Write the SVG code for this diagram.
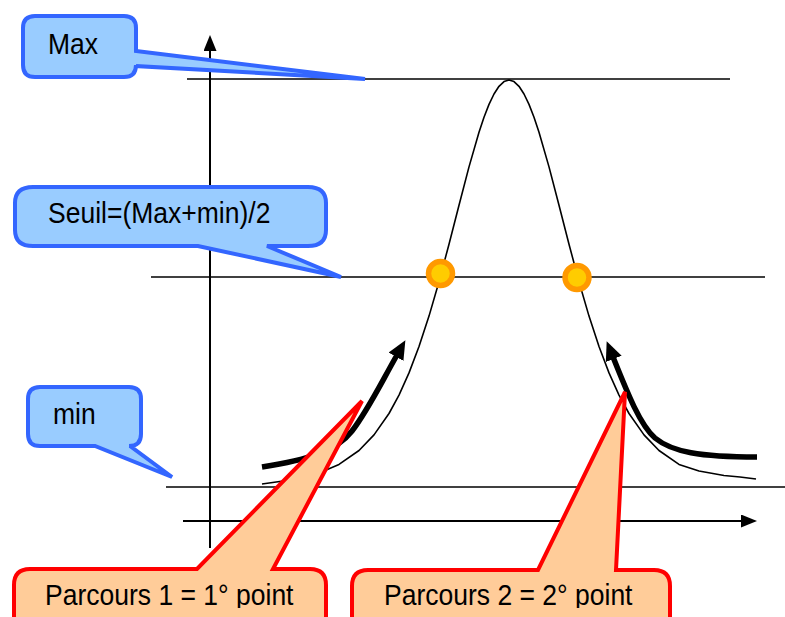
<svg xmlns="http://www.w3.org/2000/svg" width="785" height="617" viewBox="0 0 785 617">
  <style>
    .lbl { font-family: "Liberation Sans", Arial, sans-serif; font-size: 26.5px; fill: #000; }
    .blue { fill: #99CCFF; stroke: #3366FF; stroke-width: 4; stroke-linejoin: miter; }
    .red { fill: #FFCC99; stroke: #FF0000; stroke-width: 4; stroke-linejoin: miter; }
    .ref { stroke: #000; stroke-width: 1.6; fill: none; }
    .axis { stroke: #000; stroke-width: 2; fill: none; }
    .curve { stroke: #000; stroke-width: 1.6; fill: none; stroke-linejoin: round; }
    .thick { stroke: #000; stroke-width: 5.5; fill: none; }
    .pt { fill: #FFCC00; stroke: #FF9900; stroke-width: 5.5; }
  </style>
  <defs>
    <marker id="axhead" viewBox="0 0 16 13" refX="1" refY="6.5" markerWidth="16" markerHeight="13" markerUnits="userSpaceOnUse" orient="auto">
      <path d="M0,0 L16,6.5 L0,13 Z" fill="#000"/>
    </marker>
    <marker id="thickhead" viewBox="0 0 19 17" refX="2" refY="8.5" markerWidth="19" markerHeight="17" markerUnits="userSpaceOnUse" orient="auto">
      <path d="M0,0 L19,8.5 L0,17 Z" fill="#000"/>
    </marker>
    <clipPath id="txtclip">
      <rect x="0" y="0" width="785" height="608"/>
    </clipPath>
  </defs>

  <g id="connectors">
    <line class="ref" x1="187" y1="79" x2="730" y2="79"/>
    <line class="ref" x1="151" y1="277" x2="765" y2="277"/>
    <line class="ref" x1="166" y1="487" x2="785" y2="487"/>
    <line class="axis" x1="210" y1="548" x2="210" y2="50" marker-end="url(#axhead)"/>
    <line class="axis" x1="183" y1="521" x2="742" y2="521" marker-end="url(#axhead)"/>
    <polyline class="curve" points="262,484 294,479.5 319,473 339,464.4 359,450.5 374,434.9 389,413.5 399,395.1 409,372.9 419,346.5 429,316.1 439,281.7 449,244.2 459,205.2 469,166.9 479,132.3 484,117.3 489,104.4 494,94 499,86.3 504,81.6 509,80 514,81.6 519,86.3 524,94 529,104.4 534,117.3 539,132.3 549,166.9 559,205.2 569,244.2 579,281.7 589,316.1 599,346.5 609,372.9 619,395.1 629,413.5 644,434.9 659,450.5 679,464.4 699,471 724,475.5 740,477 756,479"/>
    <path class="thick" d="M262,467 C305,460 335,453 352,431 C368,410 380,385 397,355" marker-end="url(#thickhead)"/>
    <path class="thick" d="M757,457 C700,457 672,452 655,438 C640,425 627,392 613,357" marker-end="url(#thickhead)"/>
  </g>

  <g id="point1"><circle class="pt" cx="440.5" cy="273.5" r="12"/></g>
  <g id="point2"><circle class="pt" cx="577" cy="277.5" r="12"/></g>

  <g id="callout-max">
    <path class="blue" d="M35,16 H124 Q136,16 136,28 V51 L365,79 L136,66 V65 Q136,77 124,77 H35 Q23,77 23,65 V28 Q23,16 35,16 Z"/>
    <text class="lbl" transform="translate(48,54) scale(1,1.08)">Max</text>
  </g>

  <g id="callout-seuil">
    <path class="blue" d="M33,187 H308 Q326,187 326,203 V230 Q326,246 308,246 H267 L341,277 L198,246 H33 Q15,246 15,230 V203 Q15,187 33,187 Z"/>
    <text class="lbl" transform="translate(48,223) scale(1,1.08)">Seuil=(Max+min)/2</text>
  </g>

  <g id="callout-min">
    <path class="blue" d="M40,387 H129 Q141,387 141,399 V434 Q141,446 129,446 H130 L172,477 L95,446 H40 Q28,446 28,434 V399 Q28,387 40,387 Z"/>
    <text class="lbl" transform="translate(53,424) scale(1,1.08)">min</text>
  </g>

  <g id="callout-parcours1">
    <path class="red" d="M30,569 H197 L362,401 L273,569 H310 Q326,569 326,585 V640 H14 V585 Q14,569 30,569 Z"/>
    <g clip-path="url(#txtclip)">
      <text class="lbl" transform="translate(45,605) scale(1,1.08)">Parcours 1 = 1° point</text>
    </g>
  </g>

  <g id="callout-parcours2">
    <path class="red" d="M368,570 H538 L625,392 L616,570 H654 Q670,570 670,586 V640 H352 V586 Q352,570 368,570 Z"/>
    <g clip-path="url(#txtclip)">
      <text class="lbl" transform="translate(384,605) scale(1,1.08)">Parcours 2 = 2° point</text>
    </g>
  </g>
</svg>
